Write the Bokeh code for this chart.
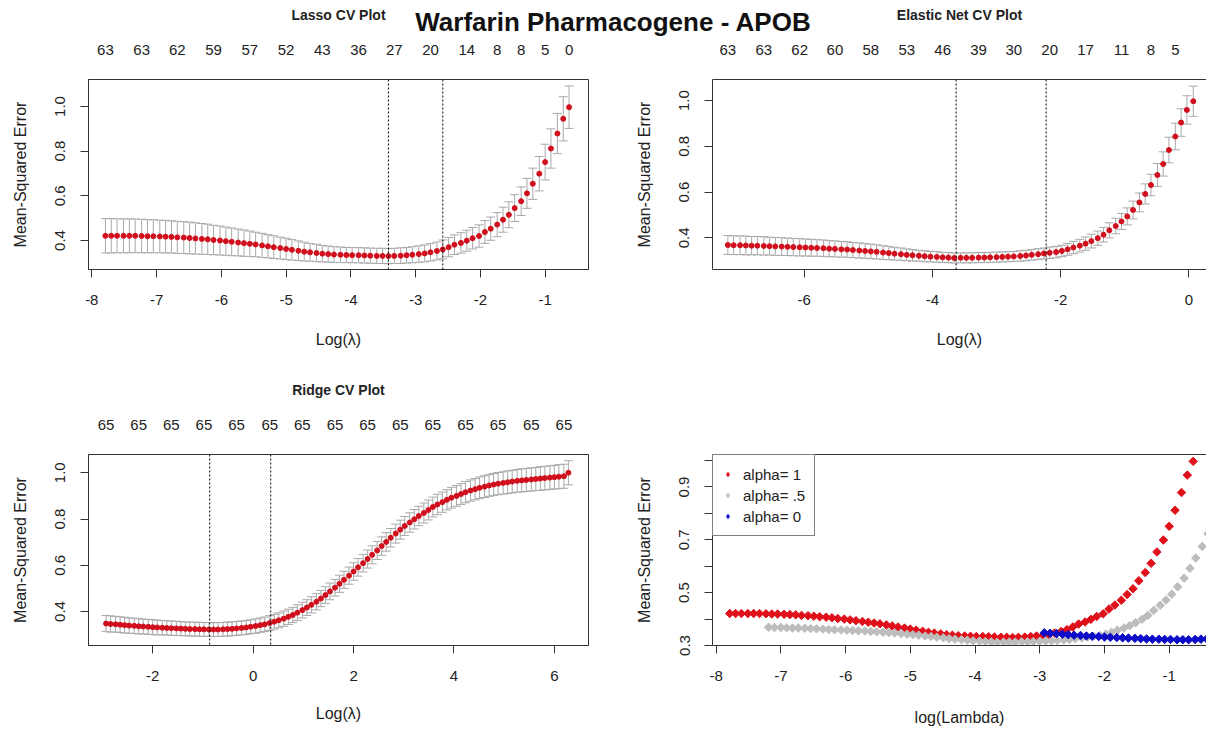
from bokeh.plotting import figure
from bokeh.models import (Range1d, FixedTicker, LinearAxis, Span, Whisker, TeeHead,
                          ColumnDataSource, Legend, LegendItem, GridBox, Div)
from bokeh.embed import file_html
from bokeh.resources import INLINE

FONT = "Liberation Sans"
TXT = "#222222"
LINE = "#333333"
ERR = "#a9a9a9"
RED = "#d10f1c"

# ---------------- data ----------------
lasso_loglambda = [-7.79, -7.70, -7.61, -7.51, -7.42, -7.33, -7.23, -7.14, -7.05, -6.95,
                   -6.86, -6.77, -6.68, -6.58, -6.49, -6.40, -6.30, -6.21, -6.12, -6.02,
                   -5.93, -5.84, -5.74, -5.65, -5.56, -5.47, -5.37, -5.28, -5.19, -5.09,
                   -5.00, -4.91, -4.81, -4.72, -4.63, -4.53, -4.44, -4.35, -4.26, -4.16,
                   -4.07, -3.98, -3.88, -3.79, -3.70, -3.60, -3.51, -3.42, -3.33, -3.23,
                   -3.14, -3.05, -2.95, -2.86, -2.77, -2.67, -2.58, -2.49, -2.40, -2.30,
                   -2.21, -2.12, -2.02, -1.93, -1.84, -1.74, -1.65, -1.56, -1.47, -1.37,
                   -1.28, -1.19, -1.09, -1.00, -0.91, -0.81, -0.72, -0.63]
lasso_mse = [0.421, 0.421, 0.421, 0.421, 0.421, 0.421, 0.420, 0.419, 0.419, 0.418,
             0.417, 0.416, 0.414, 0.413, 0.411, 0.409, 0.407, 0.405, 0.402, 0.400,
             0.397, 0.394, 0.391, 0.388, 0.385, 0.382, 0.378, 0.374, 0.370, 0.366,
             0.362, 0.358, 0.354, 0.350, 0.347, 0.344, 0.341, 0.339, 0.337, 0.336,
             0.335, 0.334, 0.334, 0.333, 0.332, 0.331, 0.331, 0.330, 0.331, 0.332,
             0.334, 0.336, 0.339, 0.342, 0.347, 0.353, 0.360, 0.370, 0.381, 0.389,
             0.399, 0.410, 0.420, 0.438, 0.453, 0.471, 0.493, 0.515, 0.545, 0.576,
             0.611, 0.654, 0.699, 0.751, 0.812, 0.879, 0.945, 0.997]
lasso_sd = [0.077, 0.077, 0.076, 0.076, 0.076, 0.075, 0.075, 0.074, 0.074, 0.073,
            0.073, 0.072, 0.072, 0.071, 0.071, 0.070, 0.069, 0.068, 0.066, 0.065,
            0.063, 0.062, 0.060, 0.059, 0.057, 0.055, 0.054, 0.052, 0.051, 0.049,
            0.048, 0.046, 0.044, 0.042, 0.040, 0.039, 0.037, 0.036, 0.035, 0.035,
            0.034, 0.034, 0.034, 0.034, 0.034, 0.034, 0.034, 0.034, 0.034, 0.035,
            0.035, 0.036, 0.037, 0.038, 0.039, 0.040, 0.042, 0.043, 0.044, 0.046,
            0.047, 0.048, 0.050, 0.051, 0.052, 0.054, 0.056, 0.058, 0.060, 0.064,
            0.067, 0.070, 0.077, 0.080, 0.088, 0.090, 0.099, 0.095]
lasso_nzero_idx = [0, 6, 12, 18, 24, 30, 36, 42, 48, 54, 60, 65, 69, 73, 77]
lasso_nzero = ["63", "63", "62", "59", "57", "52", "43", "36", "27", "20", "14", "8", "8", "5", "0"]
lasso_cut = [-3.42, -2.58]

enet_loglambda = [-7.19, -7.10, -7.00, -6.91, -6.82, -6.73, -6.63, -6.54, -6.45, -6.35,
                  -6.26, -6.17, -6.07, -5.98, -5.89, -5.80, -5.70, -5.61, -5.52, -5.42,
                  -5.33, -5.24, -5.14, -5.05, -4.96, -4.87, -4.77, -4.68, -4.59, -4.49,
                  -4.40, -4.31, -4.21, -4.12, -4.03, -3.93, -3.84, -3.75, -3.66, -3.56,
                  -3.47, -3.38, -3.28, -3.19, -3.10, -3.00, -2.91, -2.82, -2.73, -2.63,
                  -2.54, -2.45, -2.35, -2.26, -2.17, -2.07, -1.98, -1.89, -1.80, -1.70,
                  -1.61, -1.52, -1.42, -1.33, -1.24, -1.14, -1.05, -0.96, -0.87, -0.77,
                  -0.68, -0.59, -0.49, -0.40, -0.31, -0.21, -0.12, -0.03, 0.07]
enet_mse = [0.369, 0.368, 0.368, 0.367, 0.366, 0.366, 0.365, 0.364, 0.363, 0.362,
            0.361, 0.360, 0.359, 0.358, 0.357, 0.356, 0.355, 0.353, 0.352, 0.350,
            0.349, 0.347, 0.345, 0.343, 0.341, 0.339, 0.336, 0.334, 0.331, 0.329,
            0.326, 0.324, 0.322, 0.320, 0.318, 0.317, 0.315, 0.314, 0.312, 0.313,
            0.313, 0.313, 0.314, 0.314, 0.315, 0.316, 0.317, 0.318, 0.319, 0.321,
            0.323, 0.326, 0.329, 0.332, 0.335, 0.338, 0.343, 0.350, 0.358, 0.366,
            0.375, 0.386, 0.399, 0.414, 0.433, 0.452, 0.472, 0.494, 0.522, 0.555,
            0.592, 0.631, 0.675, 0.723, 0.784, 0.843, 0.904, 0.959, 0.997]
enet_sd = [0.041, 0.041, 0.041, 0.041, 0.040, 0.040, 0.040, 0.039, 0.039, 0.039,
           0.038, 0.038, 0.038, 0.037, 0.037, 0.036, 0.036, 0.035, 0.035, 0.034,
           0.034, 0.033, 0.033, 0.032, 0.032, 0.031, 0.030, 0.029, 0.028, 0.027,
           0.026, 0.025, 0.024, 0.024, 0.023, 0.023, 0.022, 0.022, 0.022, 0.022,
           0.022, 0.022, 0.022, 0.022, 0.022, 0.022, 0.022, 0.022, 0.022, 0.023,
           0.023, 0.023, 0.024, 0.024, 0.025, 0.025, 0.025, 0.026, 0.027, 0.028,
           0.029, 0.030, 0.031, 0.032, 0.033, 0.034, 0.035, 0.037, 0.039, 0.041,
           0.044, 0.047, 0.050, 0.053, 0.056, 0.058, 0.060, 0.062, 0.066]
enet_nzero_idx = [0, 6, 12, 18, 24, 30, 36, 42, 48, 54, 60, 66, 71, 75]
enet_nzero = ["63", "63", "62", "60", "58", "53", "46", "39", "30", "20", "17", "11", "8", "5"]
enet_cut = [-3.63, -2.225]

ridge_loglambda = [-2.93, -2.84, -2.74, -2.65, -2.56, -2.47, -2.37, -2.28, -2.19, -2.09,
                   -2.00, -1.91, -1.81, -1.72, -1.63, -1.53, -1.44, -1.35, -1.26, -1.16,
                   -1.07, -0.98, -0.88, -0.79, -0.70, -0.60, -0.51, -0.42, -0.33, -0.23,
                   -0.14, -0.05, 0.05, 0.14, 0.23, 0.33, 0.42, 0.51, 0.61, 0.70,
                   0.79, 0.88, 0.98, 1.07, 1.16, 1.26, 1.35, 1.44, 1.53, 1.63,
                   1.72, 1.81, 1.91, 2.00, 2.09, 2.19, 2.28, 2.37, 2.47, 2.56,
                   2.65, 2.74, 2.84, 2.93, 3.02, 3.12, 3.21, 3.30, 3.40, 3.49,
                   3.58, 3.67, 3.77, 3.86, 3.95, 4.05, 4.14, 4.23, 4.33, 4.42,
                   4.51, 4.61, 4.70, 4.79, 4.88, 4.98, 5.07, 5.16, 5.26, 5.35,
                   5.44, 5.54, 5.63, 5.72, 5.81, 5.91, 6.00, 6.09, 6.19, 6.28]
ridge_mse = [0.348, 0.346, 0.345, 0.343, 0.341, 0.339, 0.338, 0.336, 0.335, 0.334,
             0.332, 0.331, 0.330, 0.329, 0.328, 0.327, 0.326, 0.325, 0.324, 0.324,
             0.323, 0.323, 0.322, 0.322, 0.322, 0.323, 0.324, 0.325, 0.327, 0.329,
             0.331, 0.334, 0.337, 0.341, 0.345, 0.350, 0.356, 0.362, 0.369, 0.377,
             0.385, 0.395, 0.406, 0.417, 0.429, 0.442, 0.456, 0.471, 0.487, 0.503,
             0.520, 0.537, 0.555, 0.573, 0.591, 0.609, 0.627, 0.645, 0.664, 0.683,
             0.701, 0.719, 0.737, 0.754, 0.770, 0.785, 0.799, 0.813, 0.826, 0.839,
             0.852, 0.863, 0.873, 0.883, 0.892, 0.900, 0.908, 0.916, 0.923, 0.929,
             0.935, 0.940, 0.945, 0.949, 0.953, 0.956, 0.959, 0.962, 0.965, 0.967,
             0.969, 0.971, 0.973, 0.975, 0.977, 0.979, 0.981, 0.983, 0.985, 1.000]
ridge_sd = [0.035, 0.035, 0.034, 0.034, 0.034, 0.033, 0.033, 0.033, 0.032, 0.032,
            0.032, 0.032, 0.031, 0.031, 0.031, 0.031, 0.030, 0.030, 0.030, 0.030,
            0.030, 0.030, 0.030, 0.030, 0.030, 0.030, 0.030, 0.030, 0.030, 0.030,
            0.030, 0.030, 0.031, 0.031, 0.031, 0.032, 0.032, 0.032, 0.033, 0.033,
            0.033, 0.034, 0.034, 0.034, 0.035, 0.035, 0.035, 0.036, 0.036, 0.036,
            0.037, 0.037, 0.037, 0.038, 0.038, 0.038, 0.039, 0.039, 0.039, 0.040,
            0.040, 0.040, 0.041, 0.041, 0.041, 0.042, 0.042, 0.042, 0.043, 0.043,
            0.043, 0.044, 0.044, 0.044, 0.045, 0.045, 0.045, 0.046, 0.046, 0.046,
            0.047, 0.047, 0.047, 0.048, 0.048, 0.048, 0.049, 0.049, 0.049, 0.050,
            0.050, 0.050, 0.050, 0.051, 0.051, 0.051, 0.051, 0.052, 0.052, 0.052]
ridge_nzero_idx = [0, 7, 14, 21, 28, 35, 42, 49, 56, 63, 70, 77, 84, 91, 98]
ridge_nzero = ["65", "65", "65", "65", "65", "65", "65", "65", "65", "65", "65", "65", "65", "65", "65"]
ridge_cut = [-0.866, 0.35]

lasso_xticks = [-8, -7, -6, -5, -4, -3, -2, -1]
lasso_xlabels = ["-8", "-7", "-6", "-5", "-4", "-3", "-2", "-1"]
enet_xticks = [-6, -4, -2, 0]
enet_xlabels = ["-6", "-4", "-2", "0"]
ridge_xticks = [-2, 0, 2, 4, 6]
ridge_xlabels = ["-2", "0", "2", "4", "6"]
cv_yticks = [0.4, 0.6, 0.8, 1.0]
cv_ylabels = ["0.4", "0.6", "0.8", "1.0"]
cmp_yticks = [0.3, 0.4, 0.5, 0.6, 0.7, 0.8, 0.9, 1.0]
cmp_ylabels = ["0.3", "", "0.5", "", "0.7", "", "0.9", ""]
alpha_labels = ["alpha= 1", "alpha= .5", "alpha= 0"]
alpha_colors = ["#e0101a", "#bdbdbd", "#0c0cc8"]


# ---------------- helpers ----------------
def style_axis(ax, ticks, labels, text, tick_standoff, label_standoff, vertical=False):
    ax.ticker = FixedTicker(ticks=ticks)
    ax.major_label_overrides = {t: l for t, l in zip(ticks, labels)}
    ax.axis_label = text
    ax.axis_label_text_font = FONT
    ax.axis_label_text_font_size = "16px"
    ax.axis_label_text_font_style = "normal"
    ax.axis_label_text_color = TXT
    ax.axis_label_standoff = label_standoff
    ax.major_label_text_font = FONT
    ax.major_label_text_font_size = "15px"
    ax.major_label_text_color = TXT
    ax.major_label_standoff = tick_standoff
    ax.major_tick_out = 8
    ax.major_tick_in = 0
    ax.major_tick_line_color = LINE
    ax.minor_tick_line_color = None
    ax.axis_line_color = LINE
    if vertical:
        ax.major_label_orientation = "vertical"


def make_fig(width, height, xr, yr, mbl, mbr, mbt, mbb, outline=True):
    p = figure(width=width, height=height, x_range=Range1d(*xr), y_range=Range1d(*yr),
               output_backend="svg", toolbar_location=None, tools="",
               min_border_left=mbl, min_border_right=mbr, min_border_top=mbt,
               min_border_bottom=mbb)
    p.grid.visible = False
    p.background_fill_color = "white"
    p.border_fill_color = "white"
    p.outline_line_color = LINE if outline else None
    return p


def add_top_numbers(p, xs, idx, labels, title, line):
    ticks = [xs[i] for i in idx]
    ax = LinearAxis(ticker=FixedTicker(ticks=ticks),
                    major_label_overrides={t: l for t, l in zip(ticks, labels)})
    ax.major_tick_out = 0
    ax.major_tick_in = 0
    ax.minor_tick_line_color = None
    ax.major_label_standoff = 25
    ax.major_label_text_font = FONT
    ax.major_label_text_font_size = "15px"
    ax.major_label_text_color = TXT
    ax.axis_line_color = LINE if line else None
    ax.axis_label = title
    ax.axis_label_text_font = FONT
    ax.axis_label_text_font_size = "14px"
    ax.axis_label_text_font_style = "bold"
    ax.axis_label_text_color = TXT
    ax.axis_label_standoff = 19
    p.add_layout(ax, "above")


def add_cv(p, xs, mse, sd, cuts):
    upper = [m + s for m, s in zip(mse, sd)]
    lower = [m - s for m, s in zip(mse, sd)]
    src = ColumnDataSource(dict(x=xs, y=mse, upper=upper, lower=lower))
    w = Whisker(source=src, base="x", upper="upper", lower="lower", dimension="height",
                line_color=ERR, line_width=1, level="underlay",
                upper_head=TeeHead(size=9, line_color=ERR, line_width=1),
                lower_head=TeeHead(size=9, line_color=ERR, line_width=1))
    p.add_layout(w)
    p.scatter("x", "y", source=src, marker="circle", size=5,
              fill_color=RED, line_color=RED)
    for c in cuts:
        p.add_layout(Span(location=c, dimension="height", line_color="black",
                          line_width=1, line_dash="2 2"))


# ---------------- panel 1: lasso ----------------
p1 = make_fig(624, 365, (-8.051, -0.330), (0.270, 1.121), 88, 36, 79, 96)
style_axis(p1.xaxis[0], lasso_xticks, lasso_xlabels, "Log(λ)", 17, 23)
style_axis(p1.yaxis[0], cv_yticks, cv_ylabels, "Mean-Squared Error", 15, 24, vertical=True)
add_top_numbers(p1, lasso_loglambda, lasso_nzero_idx, lasso_nzero, "Lasso CV Plot", False)
add_cv(p1, lasso_loglambda, lasso_mse, lasso_sd, lasso_cut)

# ---------------- panel 2: elastic net ----------------
p2 = make_fig(582, 365, (-7.43, 0.276), (0.262, 1.092), 88, 0, 79, 96, outline=False)
style_axis(p2.xaxis[0], enet_xticks, enet_xlabels, "Log(λ)", 17, 23)
style_axis(p2.yaxis[0], cv_yticks, cv_ylabels, "Mean-Squared Error", 15, 24, vertical=True)
add_top_numbers(p2, enet_loglambda, enet_nzero_idx, enet_nzero, "Elastic Net CV Plot", True)
add_cv(p2, enet_loglambda, enet_mse, enet_sd, enet_cut)

# ---------------- panel 3: ridge ----------------
p3 = make_fig(624, 364, (-3.28, 6.68), (0.253, 1.079), 88, 36, 89, 84)
style_axis(p3.xaxis[0], ridge_xticks, ridge_xlabels, "Log(λ)", 17, 21)
style_axis(p3.yaxis[0], cv_yticks, cv_ylabels, "Mean-Squared Error", 15, 24, vertical=True)
add_top_numbers(p3, ridge_loglambda, ridge_nzero_idx, ridge_nzero, "Ridge CV Plot", False)
add_cv(p3, ridge_loglambda, ridge_mse, ridge_sd, ridge_cut)

# ---------------- panel 4: comparison ----------------
p4 = make_fig(582, 364, (-8.056, -0.424), (0.300, 1.023), 88, 0, 89, 84, outline=False)
style_axis(p4.xaxis[0], lasso_xticks, lasso_xlabels, "log(Lambda)", 17, 25)
style_axis(p4.yaxis[0], cmp_yticks, cmp_ylabels, "Mean-Squared Error", 15, 24, vertical=True)
top4 = LinearAxis(ticker=FixedTicker(ticks=[]), major_tick_out=0, major_tick_in=0,
                  major_label_standoff=0, major_label_text_font_size="0px",
                  axis_line_color=LINE)
p4.add_layout(top4, "above")
legend_items = []
for xs, ys, col, lab in zip([lasso_loglambda, enet_loglambda, ridge_loglambda],
                            [lasso_mse, enet_mse, ridge_mse], alpha_colors, alpha_labels):
    src = ColumnDataSource(dict(x=xs, y=ys))
    p4.scatter("x", "y", source=src, marker="square", angle=0.785398, size=6,
               fill_color=col, line_color=col)
    # hidden twin renderer used only for the legend swatch (diamond symbol)
    key = p4.scatter("x", "y", source=src, marker="diamond", size=10,
                     fill_color=col, line_color=col, visible=False)
    legend_items.append(LegendItem(label=lab, renderers=[key]))
legend = Legend(items=legend_items,
                location="top_left", margin=0, padding=9, spacing=1,
                glyph_width=11, glyph_height=20, label_height=20, label_standoff=10,
                border_line_color="black", border_line_width=1,
                background_fill_color="white", background_fill_alpha=1,
                label_text_font=FONT, label_text_font_size="15px", label_text_color=TXT)
p4.add_layout(legend)

# ---------------- main title overlaying the grid ----------------
title_div = Div(text='<span style="position:relative;left:10px">Warfarin Pharmacogene - APOB</span>',
                width=1206, height=44, margin=0,
                styles={"text-align": "center", "font-family": FONT, "font-weight": "bold",
                        "font-size": "26px", "line-height": "44px", "color": "#111111"})

grid = GridBox(children=[(p1, 0, 0), (p2, 0, 1), (p3, 1, 0), (p4, 1, 1),
                         (title_div, 0, 0, 1, 2)])

open("out.html", "w").write(file_html(grid, INLINE))
